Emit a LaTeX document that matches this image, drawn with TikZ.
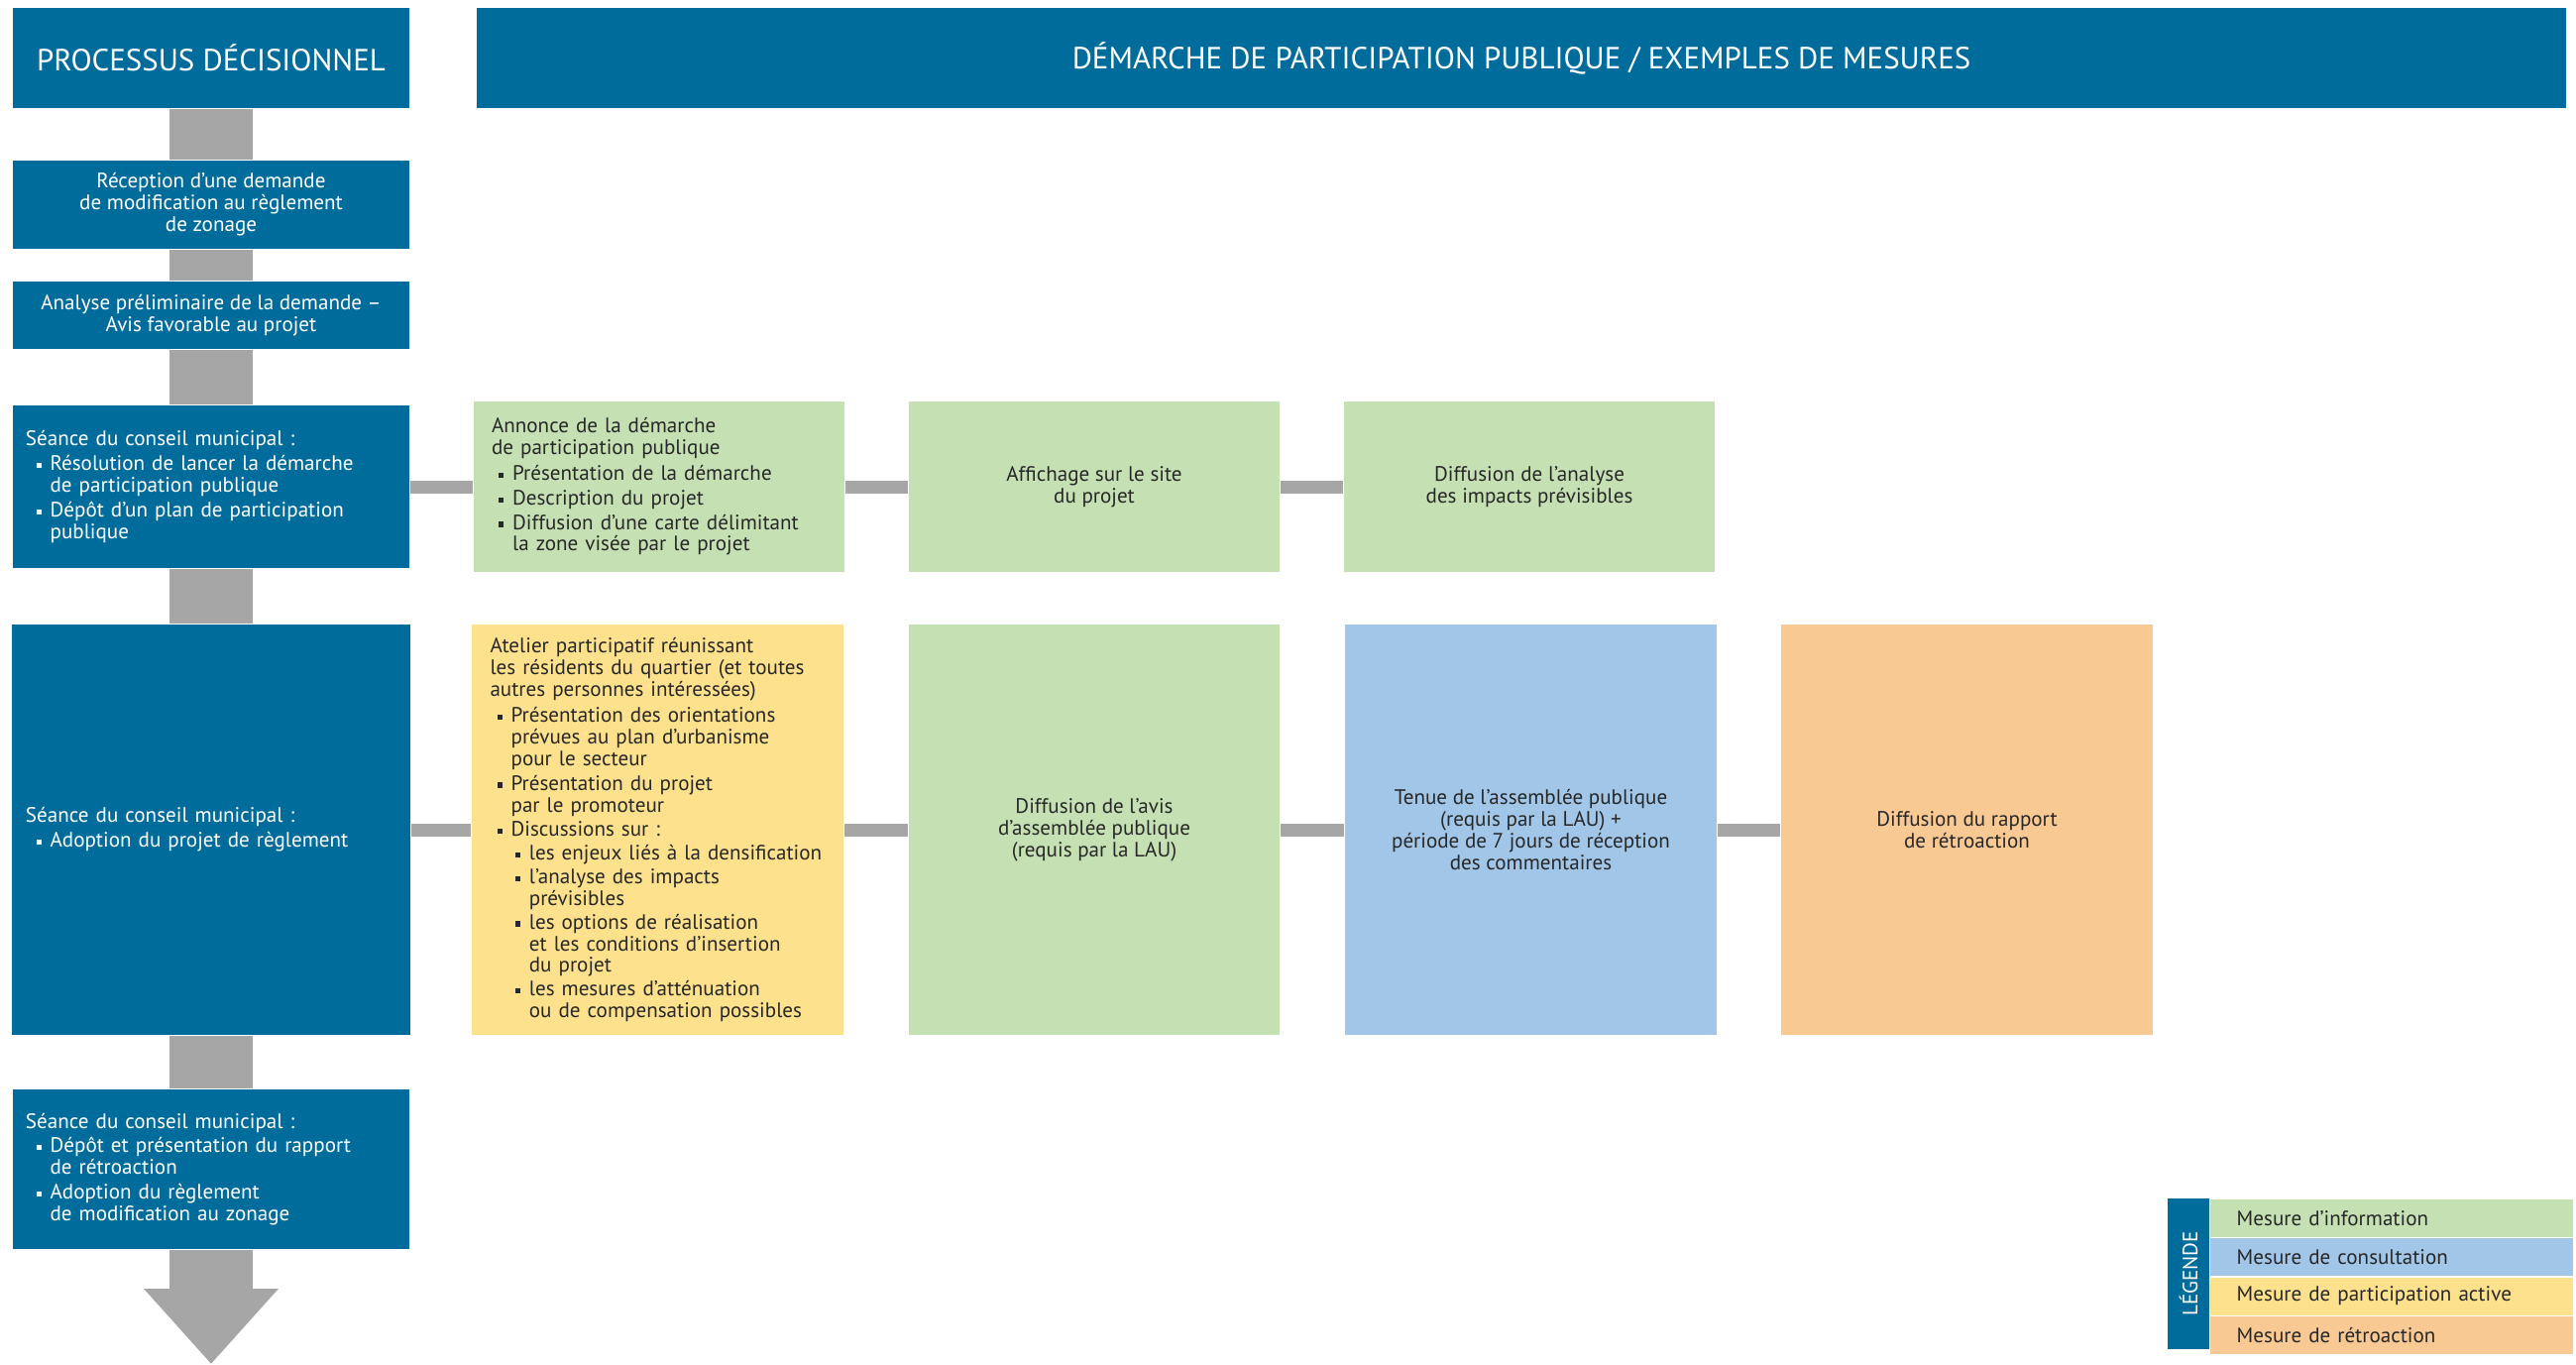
\documentclass[tikz,border=0pt]{standalone}
\usepackage{fontspec}
\setmainfont{PT Sans}
\usetikzlibrary{arrows.meta,positioning}
\definecolor{decisionblue}{RGB}{0,108,156}
\definecolor{spinegray}{RGB}{167,166,167}
\definecolor{infogreen}{RGB}{197,225,180}
\definecolor{consultblue}{RGB}{161,198,232}
\definecolor{activeyellow}{RGB}{253,225,141}
\definecolor{feedbackorange}{RGB}{249,201,148}
\definecolor{darktext}{RGB}{40,40,40}
\hyphenpenalty=10000
\exhyphenpenalty=10000
\newcommand{\puce}[1]{\par\vspace{0.8pt}\noindent\hangindent=7pt\hangafter=1\hspace*{3pt}\makebox[4pt][l]{\rule[0.7pt]{1.5pt}{1.5pt}}#1\par}
\newcommand{\souspuce}[1]{\par\vspace{0.5pt}\noindent\hangindent=12.2pt\hangafter=1\hspace*{8.3pt}\makebox[3.9pt][l]{\rule[0.7pt]{1.5pt}{1.5pt}}#1\par}

\begin{document}
\begin{tikzpicture}[
    every node/.style={inner sep=0pt,font=\fontsize{6}{6.25}\selectfont},
    header/.style={fill=decisionblue,text=white,minimum height=1.01cm,font=\fontsize{8.8}{10}\selectfont},
    decision/.style={fill=decisionblue,text=white,minimum width=4cm},
    measure/.style={text=darktext,minimum width=3.74cm,minimum height=1.72cm,align=center},
    link/.style={spinegray,line width=0.13cm},
    spine/.style={spinegray,line width=0.84cm},
    legendrow/.style={text=darktext,minimum height=0.38cm,text width=3.12cm,inner xsep=0.27cm,align=left}
]
\useasboundingbox (0,0) rectangle (25.99,-13.76);

% Titles
\node[header,minimum width=4cm] (phead) at (2.13,-0.585) {PROCESSUS DÉCISIONNEL};
\node[header,minimum width=21.08cm] (dhead) at (15.35,-0.585) {DÉMARCHE DE PARTICIPATION PUBLIQUE / EXEMPLES DE MESURES};

% Decision process
\node[decision,minimum height=0.89cm,align=center] (recep) at (2.13,-2.065) {Réception d’une demande\\de modification au règlement\\de zonage};
\node[decision,minimum height=0.68cm,align=center] (analyse) at (2.13,-3.18) {Analyse préliminaire de la demande –\\Avis favorable au projet};
\node[decision,minimum height=1.64cm,text width=3.74cm,inner xsep=0.13cm,align=left] (seance1) at (2.13,-4.91) {Séance du conseil municipal :
  \puce{Résolution de lancer la démarche\newline de participation publique}
  \puce{Dépôt d’un plan de participation\newline publique}};
\node[decision,minimum height=4.14cm,text width=3.74cm,inner xsep=0.14cm,align=left] (seance2) at (2.13,-8.37) {Séance du conseil municipal :
  \puce{Adoption du projet de règlement}};
\node[decision,minimum height=1.61cm,text width=3.74cm,inner xsep=0.13cm,align=left] (seance3) at (2.13,-11.795) {Séance du conseil municipal :
  \puce{Dépôt et présentation du rapport\newline de rétroaction}
  \puce{Adoption du règlement\newline de modification au zonage}};
\coordinate (arrowtip) at (2.13,-13.76);

% First council meeting
\node[measure,fill=infogreen,text width=3.45cm,inner xsep=0.145cm,align=left] (annonce) at (6.65,-4.91) {\hspace*{1pt}\parbox{3.4cm}{Annonce de la démarche\newline de participation publique}
  \puce{Présentation de la démarche}
  \puce{Description du projet}
  \puce{Diffusion d’une carte délimitant\newline la zone visée par le projet}};
\node[measure,fill=infogreen] (affichage) at (11.04,-4.91) {Affichage sur le site\\du projet};
\node[measure,fill=infogreen] (diffanalyse) at (15.43,-4.91) {Diffusion de l’analyse\\des impacts prévisibles};

% Second council meeting
\node[measure,fill=activeyellow,minimum height=4.14cm,text width=3.45cm,inner xsep=0.15cm,align=left] (atelier) at (6.635,-8.37) {\hspace*{1pt}\parbox{3.4cm}{Atelier participatif réunissant\newline les résidents du quartier (et toutes\newline autres personnes intéressées)}
  \puce{Présentation des orientations\newline prévues au plan d’urbanisme\newline pour le secteur}
  \puce{Présentation du projet\newline par le promoteur}
  \puce{Discussions sur :}
  \souspuce{les enjeux liés à la densification}
  \souspuce{l’analyse des impacts\newline prévisibles}
  \souspuce{les options de réalisation\newline et les conditions d’insertion\newline du projet}
  \souspuce{les mesures d’atténuation\newline ou de compensation possibles}};
\node[measure,fill=infogreen,minimum height=4.14cm] (avis) at (11.04,-8.37) {Diffusion de l’avis\\d’assemblée publique\\(requis par la LAU)};
\node[measure,fill=consultblue,minimum width=3.75cm,minimum height=4.14cm] (tenue) at (15.445,-8.37) {Tenue de l’assemblée publique\\(requis par la LAU) +\\période de 7 jours de réception\\des commentaires};
\node[measure,fill=feedbackorange,minimum width=3.75cm,minimum height=4.14cm] (rapport) at (19.845,-8.37) {Diffusion du rapport\\de rétroaction};

% Connections
\draw[spine] (phead) -- (recep);
\draw[spine] (recep) -- (analyse);
\draw[spine] (analyse) -- (seance1);
\draw[spine] (seance1) -- (seance2);
\draw[spine] (seance2) -- (seance3);
\draw[spine,-{Triangle[width=1.31cm,length=0.76cm]}] (seance3) -- (arrowtip);
\draw[link] (seance1) -- (annonce);
\draw[link] (annonce) -- (affichage);
\draw[link] (affichage) -- (diffanalyse);
\draw[link] (seance2) -- (atelier);
\draw[link] (atelier) -- (avis);
\draw[link] (avis) -- (tenue);
\draw[link] (tenue) -- (rapport);

% Legend
\node[fill=decisionblue,text=white,rotate=90,minimum width=1.52cm,minimum height=0.42cm] (legtitle) at (22.08,-12.85) {LÉGENDE};
\node[legendrow,fill=infogreen,anchor=north west] (leginfo) at (22.29,-12.09) {Mesure d’information};
\node[legendrow,fill=consultblue,below=0cm of leginfo] (legconsult) {Mesure de consultation};
\node[legendrow,fill=activeyellow,below=0cm of legconsult] (legactive) {Mesure de participation active};
\node[legendrow,fill=feedbackorange,below=0cm of legactive] (legfeedback) {Mesure de rétroaction};

\end{tikzpicture}
\end{document}
